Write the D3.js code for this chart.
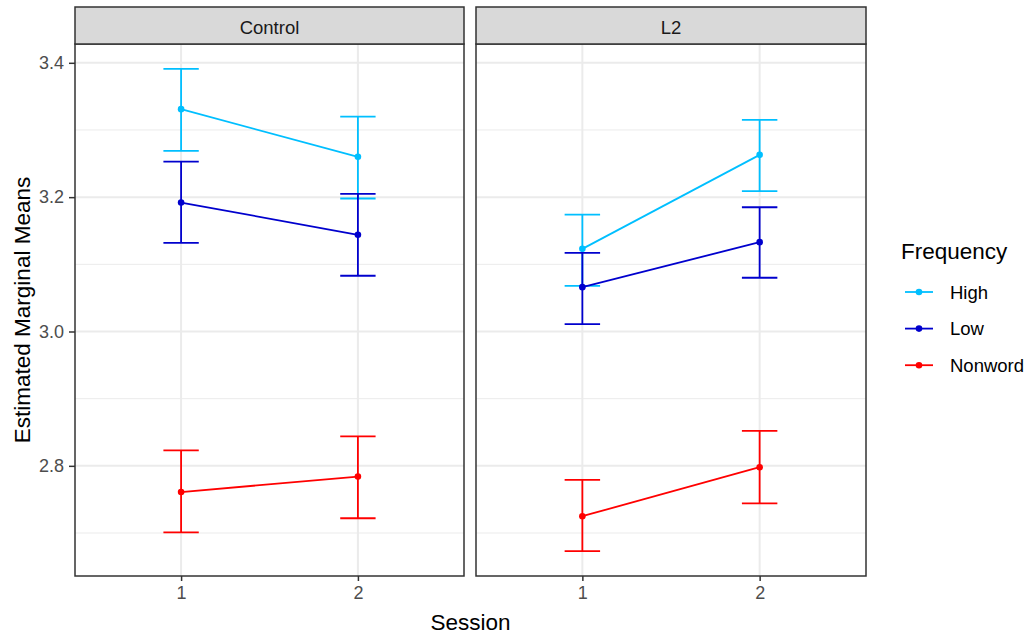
<!DOCTYPE html>
<html>
<head>
<meta charset="utf-8">
<script src="https://cdn.jsdelivr.net/npm/d3@7"></script>
<style>
  html, body { margin: 0; padding: 0; background: #ffffff; }
  svg { display: block; font-family: "Liberation Sans", Arial, sans-serif; }
</style>
</head>
<body>
<svg id="chart" width="1027" height="635"></svg>
<script>
// Estimated marginal means by session, split by group facet
const groups = ["Control", "L2"];
const sessions = ["1", "2"];
const frequencies = ["High", "Low", "Nonword"];
const colors = ["#00BFFF", "#0000CD", "#FF0000"];

// emmean, lower CI, upper CI for each group × frequency × session
const controlHigh    = [[3.331, 3.269, 3.391], [3.260, 3.198, 3.320]];
const controlLow     = [[3.192, 3.132, 3.253], [3.144, 3.083, 3.205]];
const controlNonword = [[2.761, 2.701, 2.823], [2.784, 2.722, 2.844]];
const l2High         = [[3.123, 3.068, 3.174], [3.263, 3.209, 3.315]];
const l2Low          = [[3.066, 3.011, 3.117], [3.133, 3.080, 3.185]];
const l2Nonword      = [[2.725, 2.673, 2.779], [2.798, 2.744, 2.852]];

const yTicks = [2.8, 3.0, 3.2, 3.4];
const yMinor = [2.7, 2.9, 3.1, 3.3];

const seriesByGroup = {
  "Control": [controlHigh, controlLow, controlNonword],
  "L2": [l2High, l2Low, l2Nonword]
};

const svg = d3.select("#chart");

const panelTop = 44, panelBottom = 576, stripTop = 7;
const panels = [
  { group: "Control", left: 75, right: 464 },
  { group: "L2", left: 476, right: 866 }
];

const y = d3.scaleLinear().domain([2.636, 3.428]).range([panelBottom, panelTop]);

const border = "#333333";
const gridCol = "#EBEBEB";

panels.forEach((p, pi) => {
  const x = d3.scalePoint().domain(sessions).range([p.left, p.right]).padding(0.6);
  const step = x.step();
  const g = svg.append("g");

  // panel background
  g.append("rect").attr("x", p.left).attr("y", panelTop)
    .attr("width", p.right - p.left).attr("height", panelBottom - panelTop)
    .attr("fill", "#fff");

  // minor grid
  g.selectAll(".minor").data(yMinor).enter().append("line")
    .attr("x1", p.left).attr("x2", p.right)
    .attr("y1", d => y(d)).attr("y2", d => y(d))
    .attr("stroke", gridCol).attr("stroke-width", 1);
  // major grid
  g.selectAll(".majorY").data(yTicks).enter().append("line")
    .attr("x1", p.left).attr("x2", p.right)
    .attr("y1", d => y(d)).attr("y2", d => y(d))
    .attr("stroke", gridCol).attr("stroke-width", 2);
  g.selectAll(".majorX").data(sessions).enter().append("line")
    .attr("x1", d => x(d)).attr("x2", d => x(d))
    .attr("y1", panelTop).attr("y2", panelBottom)
    .attr("stroke", gridCol).attr("stroke-width", 2);

  // series
  seriesByGroup[p.group].forEach((series, si) => {
    const col = colors[si];
    const pts = series.map((v, i) => ({ s: sessions[i], m: v[0], lo: v[1], hi: v[2] }));
    // error bars
    pts.forEach(d => {
      const cx = x(d.s), hw = step * 0.1;
      g.append("line").attr("x1", cx).attr("x2", cx)
        .attr("y1", y(d.lo)).attr("y2", y(d.hi))
        .attr("stroke", col).attr("stroke-width", 1.8);
      [d.lo, d.hi].forEach(v => {
        g.append("line").attr("x1", cx - hw).attr("x2", cx + hw)
          .attr("y1", y(v)).attr("y2", y(v))
          .attr("stroke", col).attr("stroke-width", 1.8);
      });
    });
    // connecting line
    g.append("path").datum(pts)
      .attr("d", d3.line().x(d => x(d.s)).y(d => y(d.m)))
      .attr("fill", "none").attr("stroke", col).attr("stroke-width", 1.8);
    // points
    g.selectAll(null).data(pts).enter().append("circle")
      .attr("cx", d => x(d.s)).attr("cy", d => y(d.m)).attr("r", 3.3)
      .attr("fill", col);
  });

  // panel border
  g.append("rect").attr("x", p.left).attr("y", panelTop)
    .attr("width", p.right - p.left).attr("height", panelBottom - panelTop)
    .attr("fill", "none").attr("stroke", border).attr("stroke-width", 1.5);

  // strip
  g.append("rect").attr("x", p.left).attr("y", stripTop)
    .attr("width", p.right - p.left).attr("height", panelTop - stripTop)
    .attr("fill", "#D9D9D9").attr("stroke", border).attr("stroke-width", 1.5);
  g.append("text").attr("x", (p.left + p.right) / 2).attr("y", 34)
    .attr("text-anchor", "middle").attr("font-size", 18.5).attr("fill", "#1A1A1A")
    .text(p.group);

  // x axis
  const xAxis = d3.axisBottom(x).tickSize(5).tickPadding(5);
  const ax = svg.append("g").attr("transform", `translate(0,${panelBottom})`).call(xAxis);
  ax.select(".domain").remove();
  ax.selectAll(".tick line").attr("stroke", border).attr("stroke-width", 1.5);
  ax.selectAll(".tick text").attr("font-size", 18).attr("fill", "#4D4D4D")
    .attr("font-family", "Liberation Sans, Arial, sans-serif");

  // y axis on the first panel only
  if (pi === 0) {
    const yAxis = d3.axisLeft(y).tickValues(yTicks).tickFormat(d3.format(".1f"))
      .tickSize(6).tickPadding(5);
    const ay = svg.append("g").attr("transform", `translate(${p.left},0)`).call(yAxis);
    ay.select(".domain").remove();
    ay.selectAll(".tick line").attr("stroke", border).attr("stroke-width", 1.5);
    ay.selectAll(".tick text").attr("font-size", 18).attr("fill", "#4D4D4D")
      .attr("font-family", "Liberation Sans, Arial, sans-serif");
  }
});

// axis titles
svg.append("text").attr("x", 470.5).attr("y", 630)
  .attr("text-anchor", "middle").attr("font-size", 22.5).attr("fill", "#000")
  .text("Session");
svg.append("text")
  .attr("transform", `translate(30,${(panelTop + panelBottom) / 2}) rotate(-90)`)
  .attr("text-anchor", "middle").attr("font-size", 22.5).attr("fill", "#000")
  .text("Estimated Marginal Means");

// legend
const legend = svg.append("g");
legend.append("text").attr("x", 901).attr("y", 259)
  .attr("font-size", 22.5).attr("fill", "#000").text("Frequency");
frequencies.forEach((f, i) => {
  const ly = 292 + i * 36.6;
  legend.append("line").attr("x1", 905).attr("x2", 933)
    .attr("y1", ly).attr("y2", ly).attr("stroke", colors[i]).attr("stroke-width", 1.8);
  legend.append("circle").attr("cx", 919).attr("cy", ly).attr("r", 3.3).attr("fill", colors[i]);
  legend.append("text").attr("x", 950).attr("y", ly + 6.5)
    .attr("font-size", 18.5).attr("fill", "#000").text(f);
});
</script>
</body>
</html>
